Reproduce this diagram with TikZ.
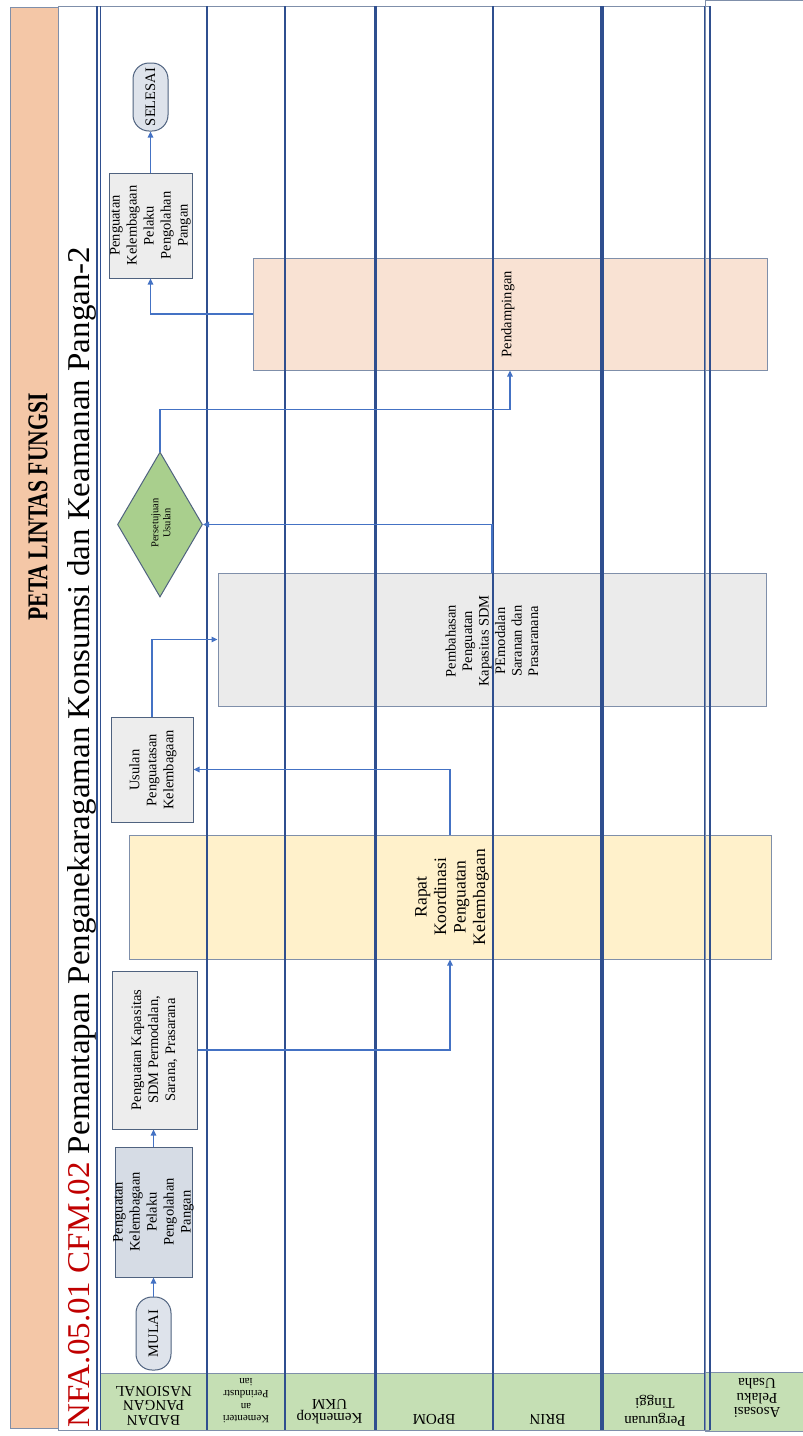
\documentclass[tikz,border=0pt]{standalone}
\usepackage{fontspec}
\setmainfont{Liberation Serif}
\usepackage{graphicx}
\usetikzlibrary{arrows.meta,shapes.geometric}

\definecolor{laneblue}{HTML}{2F4F8F}
\definecolor{flowblue}{HTML}{4472C4}
\definecolor{titlepeach}{HTML}{F4C7A7}
\definecolor{framegrey}{HTML}{7F8FAA}
\definecolor{headgreen}{HTML}{C5DFB4}
\definecolor{boxgrey}{HTML}{EDEDED}
\definecolor{boxblue}{HTML}{D6DCE5}
\definecolor{boxedge}{HTML}{4F627F}
\definecolor{pillfill}{HTML}{DEE3EB}
\definecolor{meetyellow}{HTML}{FFF1CB}
\definecolor{talkgrey}{HTML}{EBEBEB}
\definecolor{assistpeach}{HTML}{F9E2D3}
\definecolor{diamondgreen}{HTML}{A9CF8D}
\definecolor{codered}{HTML}{C00000}

\begin{document}
\begin{tikzpicture}[x=1pt,y=-1pt,
  procbox/.style={draw=boxedge, line width=1pt, inner sep=0pt},
  bigbox/.style={draw=framegrey, line width=1pt, inner sep=0pt},
  pill/.style={draw=boxedge, fill=pillfill, line width=1pt, inner sep=0pt, rounded corners=16pt},
  flow/.style={draw=flowblue, line width=1.4pt, -{Triangle[length=6pt,width=5.5pt]}},
  boxtxt/.style={rotate=90, align=center, inner sep=0pt, font=\fontsize{14.5}{17}\selectfont},
  headtxt/.style={rotate=180, align=center, inner sep=0pt, font=\fontsize{15}{14.5}\selectfont},
  laneline/.style={draw=laneblue}
]
\useasboundingbox (0,0) rectangle (803,1436);
\fill[white] (0,0) rectangle (803,1436);

% title strip and subtitle band
\node[draw=framegrey, fill=titlepeach, line width=1pt, minimum width=48pt, minimum height=1421pt, inner sep=0pt] (titleband) at (34,717.5) {};
\node[draw=framegrey, fill=white, line width=0.8pt, minimum width=39pt, minimum height=1424pt, inner sep=0pt] (subband) at (77.5,718) {};
\node[rotate=90, inner sep=0pt] (title) at (38,507) {\resizebox{227pt}{19pt}{\bfseries PETA LINTAS FUNGSI}};
\node[rotate=90, anchor=base west, inner sep=0pt] (subtitle) at (89,1428)
  {\resizebox{1181pt}{22pt}{\textcolor{codered}{NFA.05.01 CFM.02} Pemantapan Penganekaragaman Konsumsi dan Keamanan Pangan-2}};

% activities spanning several lanes
\node[bigbox, fill=meetyellow, minimum width=642pt, minimum height=124pt] (rapat) at (450,897) {};
\node[bigbox, fill=talkgrey, minimum width=548pt, minimum height=133pt] (bahas) at (492,639.5) {};
\node[bigbox, fill=assistpeach, minimum width=514pt, minimum height=112pt] (pend) at (510,314) {};

% header cells
\fill[headgreen] (100,1373) rectangle (705,1430);
\draw[framegrey, line width=0.8pt] (100,1373) -- (705,1373);
\fill[headgreen] (705,1372) rectangle (803,1431);
\draw[framegrey, line width=0.8pt] (705,1372) -- (803,1372);

% lane frame
\draw[framegrey, line width=0.9pt] (58,6) -- (710,6);
\draw[framegrey, line width=0.9pt] (58,1430) -- (710,1430);
\draw[laneblue, line width=1.3pt] (97,6) -- (97,1430);
\draw[laneblue, line width=1.3pt] (100.5,6) -- (100.5,1430);
\foreach \lx/\lw in {207/2.6, 285/2.2, 375/3, 493/2.6, 602/4}
  \draw[laneline, line width=\lw pt] (\lx,6) -- (\lx,1430);
\draw[laneblue, line width=1.2pt] (705,6) -- (705,1430);
\draw[laneblue, line width=1.2pt] (710,6) -- (710,1430);
\draw[framegrey, line width=1pt] (705,1431) -- (705,0.5) -- (803,0.5);
\draw[framegrey, line width=1pt] (705,1431) -- (803,1431);

% lane names
\node[headtxt] (hbadan) at (153.5,1405.5) {BADAN\\PANGAN\\NASIONAL};
\node[headtxt, font=\fontsize{11}{12.3}\selectfont] (hperin) at (246,1400.5) {Kementeri\\an\\Perindustr\\ian};
\node[headtxt] (hkop) at (329.5,1411.5) {Kemenkop\\UKM};
\node[headtxt] (hbpom) at (434,1419) {BPOM};
\node[headtxt] (hbrin) at (547.5,1419) {BRIN};
\node[headtxt, font=\fontsize{15}{18}\selectfont] (hpt) at (655,1411) {Perguruan\\Tinggi};
\node[headtxt] (hasos) at (757,1398) {Asosasi\\Pelaku\\Usaha};

% activity labels on the wide boxes
\node[boxtxt, font=\fontsize{17.5}{19.5}\selectfont] (rapatt) at (452,897) {Rapat\\Koordinasi\\Penguatan\\Kelembagaan};
\node[boxtxt, font=\fontsize{14.5}{16.5}\selectfont] (bahast) at (492,641) {Pembahasan\\Penguatan\\Kapasitas SDM\\PEmodalan\\Saranan dan\\Prasaranana};
\node[boxtxt] (pendt) at (508,314) {Pendampingan};

% steps in the first lane
\node[pill, minimum width=35pt, minimum height=73pt] (mulai) at (153.5,1333.5) {};
\node[boxtxt] (mulait) at (mulai) {MULAI};
\node[procbox, fill=boxblue, minimum width=77pt, minimum height=130pt] (start) at (153.5,1212) {};
\node[boxtxt] (startt) at (start) {Penguatan\\Kelembagaan\\Pelaku\\Pengolahan\\Pangan};
\node[procbox, fill=boxgrey, minimum width=85pt, minimum height=158pt] (kapas) at (154.5,1050) {};
\node[boxtxt] (kapast) at (kapas) {Penguatan Kapasitas\\SDM Permodalan,\\Sarana, Prasarana};
\node[procbox, fill=boxgrey, minimum width=82pt, minimum height=105pt] (usulan) at (152,769.5) {};
\node[boxtxt] (usulant) at (153,770) {Usulan\\Penguatasan\\Kelembagaan};
\node[diamond, draw=boxedge, fill=diamondgreen, line width=1pt, inner sep=0pt, minimum width=85pt, minimum height=145pt] (setuju) at (160,524.5) {};
\node[boxtxt, font=\fontsize{10.5}{12}\selectfont] (setujut) at (161,523) {Persetujuan\\Usulan};
\node[procbox, fill=boxgrey, minimum width=83pt, minimum height=105pt] (endbox) at (150.5,225.5) {};
\node[boxtxt] (endboxt) at (endbox) {Penguatan\\Kelembagaan\\Pelaku\\Pengolahan\\Pangan};
\node[pill, minimum width=35pt, minimum height=68pt] (selesai) at (150.5,97) {};
\node[boxtxt] (selesait) at (selesai) {SELESAI};

% flow
\draw[flow] (mulai.north) -- (start.south);
\draw[flow] (start.north) -- (start.north |- kapas.south);
\draw[flow] (kapas.east) -| (rapat.south);
\draw[flow] (rapat.north) |- (usulan.east);
\draw[flow] (usulan.north) |- (bahas.west);
\draw[flow] (bahas.north) |- (setuju.east);
\draw[flow] (setuju.north) -- ++(0,-42) -| (pend.south);
\draw[flow] (pend.west) -| (endbox.south);
\draw[flow] (endbox.north) -- (selesai.south);
\end{tikzpicture}
\end{document}
